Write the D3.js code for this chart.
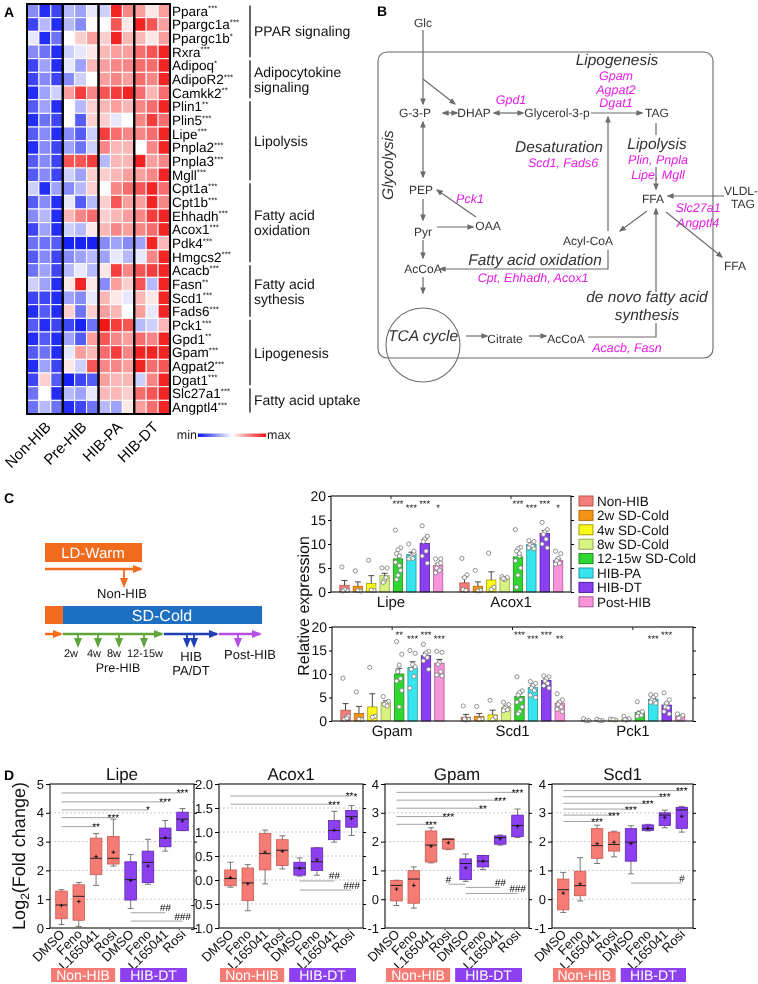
<!DOCTYPE html>
<html><head><meta charset="utf-8">
<script src="https://cdn.jsdelivr.net/npm/d3@7"></script>
<style>body{margin:0;background:#fff}svg{display:block;font-family:"Liberation Sans",Arial,Helvetica,sans-serif;will-change:transform;-webkit-font-smoothing:antialiased;text-rendering:geometricPrecision}</style>
</head><body><script>
// ================= DATA =================
// Panel A heatmap
const heatGenes = ["Ppara","Ppargc1a","Ppargc1b","Rxra","Adipoq","AdipoR2","Camkk2","Plin1","Plin5","Lipe","Pnpla2","Pnpla3","Mgll","Cpt1a","Cpt1b","Ehhadh","Acox1","Pdk4","Hmgcs2","Acacb","Fasn","Scd1","Fads6","Pck1","Gpd1","Gpam","Agpat2","Dgat1","Slc27a1","Angptl4"];
const heatStars = ["***","***","*","***","*","***","**","**","***","***","***","***","***","***","***","***","***","***","***","***","**","***","***","***","**","***","***","***","***","***"];
const heatGroups = ["Non-HIB","Pre-HIB","HIB-PA","HIB-DT"];
const heatValues = [
 [-0.5,-0.9,-0.8,-0.3,-0.4,-0.1,-0.2,0.9,0.5,0.4,0.1,0.4],
 [-0.8,-0.3,-0.9,-0.3,-0.5,0,0,0.7,0.1,0.9,0.7,0.4],
 [-0.1,-0.9,-0.6,0,0.2,0.4,0.2,0.9,0.3,0.3,0.1,0.4],
 [-0.5,-0.6,-0.9,-0.2,-0.1,0.1,0.3,0.4,0.4,0.6,0.7,0.9],
 [-0.8,-0.4,-0.9,-0.1,-0.4,0.3,0.4,0.5,0.5,0.6,0.6,0.9],
 [-0.8,-0.5,-0.8,-0.5,-0.2,0,0.4,0.5,0.4,0.6,0.5,0.9],
 [-0.9,-0.4,-0.2,0.4,0.8,0.5,0.7,0.8,0.9,0.6,0.3,0.6],
 [-0.7,-0.4,-0.9,0,-0.3,0.2,0.3,0.4,0.3,0.5,0.6,0.9],
 [-0.9,-0.6,-0.8,0,-0.7,0.2,0.2,-0.1,0,0.5,0.8,0.6],
 [-0.7,-0.5,-0.9,-0.5,-0.7,-0.2,0.8,0.6,0.5,0.5,0.6,0.9],
 [-0.9,-0.5,-0.8,-0.4,-0.6,-0.2,0.5,0.3,0.3,0,0.5,0.9],
 [-0.7,-0.5,-0.8,0.7,0.7,0.8,-0.3,0.3,0.3,0.9,0.4,0.5],
 [-0.7,-0.5,-0.8,-0.2,-0.4,0.2,0.2,0.3,0.4,0.4,0.5,0.9],
 [-0.2,-0.9,-0.4,-0.5,-0.3,0.2,0,0.5,0.6,0.7,0.9,0.6],
 [-0.7,-0.5,-0.9,-0.1,-0.7,-0.3,0.2,0.7,0.4,0.4,0.9,0.5],
 [-0.5,-0.3,-0.9,0.3,0.5,0.6,0.2,0.3,0.4,0.5,0.8,0.9],
 [-0.8,-0.4,-0.9,-0.2,-0.3,0.1,0.3,0.5,0.4,0.5,0.6,0.9],
 [-0.6,-0.6,-0.7,-0.95,-0.95,-0.95,-0.5,-0.4,-0.5,-0.4,0.9,0.3],
 [-0.7,-0.5,-0.8,-0.5,-0.4,-0.3,-0.4,-0.1,-0.3,-0.1,0.5,0.9],
 [-0.6,-0.4,-0.8,-0.3,-0.1,-0.3,0.1,0.8,0.5,0.7,0.8,0.9],
 [-0.2,-0.4,-0.9,0.1,0.9,0.1,-0.5,0.4,0.2,0.7,-0.3,0.9],
 [-0.8,-0.8,-0.9,-0.4,-0.5,-0.1,0.3,0.1,-0.1,0.3,0.1,0.9],
 [-0.9,-0.7,-0.9,0.2,-0.6,0.2,0.4,0.3,0,0.4,-0.1,0.9],
 [-0.7,-0.9,-0.8,-0.8,-0.95,-0.6,0.95,0.8,0.7,-0.3,-0.2,0.3],
 [-0.9,-0.7,-0.9,-0.4,-0.7,0.4,0.7,0.5,0.4,0.6,0.5,0.9],
 [-0.7,-0.6,-0.9,-0.1,0.4,0.3,0.6,0.8,0.5,0.9,0.9,0.9],
 [-0.9,-0.4,-0.8,0.1,-0.2,0.7,0.5,0.5,0.4,0.9,0.6,0.7],
 [-0.8,0.2,-0.7,-0.95,-0.8,-0.7,0.4,0.3,0.3,-0.2,0.5,0.9],
 [-0.6,0,-0.9,-0.3,-0.4,-0.1,0.3,0.3,0.2,0.6,0.7,0.9],
 [-0.6,-0.3,-0.6,-0.9,-0.8,-0.6,-0.3,-0.4,0.1,0.4,0.6,0.9]
];
const pathwayNames = [["PPAR signaling"],["Adipocytokine","signaling"],["Lipolysis"],["Fatty acid","oxidation"],["Fatty acid","sythesis"],["Lipogenesis"],["Fatty acid uptake"]];
const pathwayRows = [[0,3],[4,6],[7,12],[13,18],[19,22],[23,27],[28,29]];

// Panel C bar charts
const barSeries = ["Non-HIB","2w SD-Cold","4w SD-Cold","8w SD-Cold","12-15w SD-Cold","HIB-PA","HIB-DT","Post-HIB"];
const barColors = ["#f27f77","#f39417","#fbf81c","#d8f380","#2fd82f","#37e5ef","#8a3ff0","#f794da"];
const barStrokes = ["#b8564f","#b56a0a","#a8a000","#8fa850","#1e8a1e","#1d9aa3","#4e1ea8","#b05a98"];
const barGenesTop = ["Lipe","Acox1"];
const barGenesBottom = ["Gpam","Scd1","Pck1"];
const barTicks = [0,5,10,15,20];
const meanLipe = [1.4,1.2,1.8,3.4,6.9,7.8,10.1,5.5];
const semLipe = [1.0,0.9,1.6,0.5,0.9,0.5,0.9,0.4];
const ptsLipe = [[5.2,0.3,0.5,0.2],[4.4,0.2,0.3],[6.6,0.3,0.4],[5.0,5.0,2.5,2.0,3.0],[12.9,9.2,8.8,8.0,7.5,6.2,4.5,3.5,2.6,5.5],[10.0,8.0,7.5,7.2,7.0,6.9,8.5],[13.8,11.6,11.0,10.5,8.5,7.5,6.0],[6.9,6.9,5.8,5.0,4.5,4.0,6.0]];
const sigLipe = ["","","","","***","***","***","*"];
const meanAcox1 = [1.9,1.2,2.5,2.9,7.3,9.9,12.2,6.6];
const semAcox1 = [1.2,0.9,1.7,0.2,0.9,0.4,0.6,0.3];
const ptsAcox1 = [[7.0,3.6,3.0,0.5,0.3],[4.5,0.3,0.2],[8.1,1.0,0.5],[3.2,3.0,2.6,2.8],[13.0,9.3,9.0,8.5,7.5,6.5,5.0,3.5,1.0,8.0],[10.7,10.5,10.0,9.8,9.5,9.2,9.0],[14.5,13.0,12.5,12.0,11.0,10.0,9.2],[8.5,8.0,7.0,6.5,6.0,5.8]];
const sigAcox1 = ["","","","","***","***","***","*"];
const meanGpam = [2.3,1.6,3.0,4.0,10.0,11.4,13.9,12.3];
const semGpam = [1.4,1.5,2.8,0.3,1.2,1.2,0.7,0.8];
const ptsGpam = [[9.1,1.0,0.5,0.3,0.6],[6.2,0.3,0.4],[11.4,1.0,0.8],[5.2,4.2,3.8,3.5,3.2],[16.9,14.2,11.9,10.8,9.0,8.5,6.5,3.0,10.5],[15.0,14.4,12.0,11.0,9.5,7.0,11.5],[16.3,14.8,14.5,14.0,13.5,12.8,11.0],[14.8,14.6,12.5,12.0,10.5,9.8,9.6]];
const sigGpam = ["","","","","**","***","***","***"];
const meanScd1 = [0.8,1.0,1.3,2.9,5.2,7.1,8.6,3.8];
const semScd1 = [0.6,0.6,1.0,0.3,0.7,0.5,0.4,0.4];
const ptsScd1 = [[3.2,0.3,0.2,0.4],[3.1,0.4,0.3],[4.4,0.8,0.3],[4.0,3.5,3.0,2.7,2.4,2.2],[9.4,6.4,6.0,5.5,4.5,4.0,3.0,2.0,1.5],[8.4,8.0,7.5,7.0,6.5,5.5,5.0],[9.6,9.4,9.0,8.5,8.0,7.5,7.0],[5.8,4.5,4.0,3.5,3.0,2.5,2.0]];
const sigScd1 = ["","","","","***","***","***","**"];
const meanPck1 = [0.1,0.15,0.3,0.4,1.8,4.6,3.4,1.0];
const semPck1 = [0.1,0.1,0.1,0.2,0.3,0.2,0.4,0.2];
const ptsPck1 = [[0.5,0.1,0.05],[0.4,0.1,0.1],[0.4,0.2,0.3],[1.0,0.5,0.2,0.3],[4.1,1.8,1.5,1.6,1.2,1.0,2.0],[5.6,5.5,5.0,4.5,4.2,4.0,3.8],[6.0,4.5,3.8,3.0,2.8,2.0,1.5],[1.5,1.2,0.8,0.6]];
const sigPck1 = ["","","","","","***","***",""];

// Panel D box plots: [whiskerLow, q1, median, q3, whiskerHigh, mean]
const boxTreatments = ["DMSO","Feno","L165041","Rosi","DMSO","Feno","L165041","Rosi"];
const boxConditions = ["Non-HIB","HIB-DT"];
const boxLipe = [[0.12,0.32,0.80,1.28,1.33,0.78],[0.05,0.27,1.10,1.50,1.58,0.92],[1.48,1.85,2.42,3.12,3.28,2.48],[2.15,2.22,2.42,3.18,3.78,2.63],[0.68,0.97,1.68,2.30,2.55,1.65],[1.52,1.58,2.28,2.67,3.08,2.15],[2.67,2.82,3.12,3.47,3.73,3.14],[3.38,3.38,3.78,4.02,4.15,3.72]];
const boxAcox1 = [[-0.15,-0.12,0.03,0.21,0.37,0.05],[-0.64,-0.43,-0.06,0.25,0.32,-0.08],[-0.08,0.21,0.55,0.97,1.04,0.58],[0.23,0.30,0.62,0.84,0.92,0.60],[0.08,0.10,0.25,0.37,0.46,0.24],[0.10,0.20,0.38,0.67,0.67,0.42],[0.79,0.84,1.03,1.24,1.43,1.04],[0.93,1.10,1.32,1.45,1.55,1.28]];
const boxGpam = [[-0.22,-0.06,0.48,0.65,0.66,0.35],[-0.31,-0.14,0.70,0.99,1.12,0.48],[1.26,1.29,1.88,2.37,2.48,1.84],[1.72,1.74,2.08,2.10,2.10,1.96],[0.62,0.68,1.24,1.40,1.57,1.09],[1.03,1.12,1.32,1.52,1.52,1.32],[1.88,1.91,2.14,2.20,2.23,2.10],[2.14,2.17,2.56,2.92,3.13,2.53]];
const boxScd1 = [[-0.46,-0.37,0.33,0.70,0.93,0.21],[-0.06,0.12,0.47,0.97,1.44,0.53],[1.24,1.42,1.86,2.45,2.57,1.93],[1.47,1.67,1.90,2.33,2.36,1.98],[0.88,1.32,1.98,2.45,2.55,1.93],[2.37,2.39,2.45,2.58,2.60,2.46],[2.48,2.56,2.92,3.00,3.09,2.84],[2.33,2.46,3.10,3.19,3.22,2.88]];
// significance: [fromIndex, toIndex, yValue, label]
const sigBoxLipe = [[0,2,3.52,"**"],[0,3,3.83,"***"],[0,5,4.10,"*"],[0,6,4.38,"***"],[0,7,4.69,"***"],[4,6,0.53,"##"],[4,7,0.24,"###"]];
const sigBoxAcox1 = [[0,6,1.58,"***"],[0,7,1.75,"***"],[4,6,-0.02,"##"],[4,7,-0.21,"###"]];
const sigBoxGpam = [[0,2,2.6,"***"],[0,3,2.87,"***"],[0,5,3.16,"**"],[0,6,3.44,"***"],[0,7,3.71,"***"],[4,3,0.52,"#"],[4,6,0.41,"##"],[4,7,0.2,"###"]];
const sigBoxScd1 = [[0,2,2.7,"***"],[0,3,2.92,"***"],[0,4,3.13,"***"],[0,5,3.33,"***"],[0,6,3.56,"***"],[0,7,3.77,"***"],[4,7,0.56,"#"]];

// ================= DRAW =================
const svg = d3.select("body").append("svg").attr("width",758).attr("height",984);
const defs = svg.append("defs");
function mk(id,color,size){
  defs.append("marker").attr("id",id).attr("viewBox","0 0 10 10").attr("refX",8).attr("refY",5)
   .attr("markerWidth",size).attr("markerHeight",size).attr("markerUnits","userSpaceOnUse")
   .attr("orient","auto-start-reverse").append("path").attr("d","M0,1 L10,5 L0,9 z").attr("fill",color);
}
mk("ag","#6b6b6b",7); mk("ao","#f26a1c",10); mk("agr","#5fa53b",10); mk("ab","#1e40b4",10); mk("ap","#b450e6",10);

function txt(g,x,y,t,o={}){
  const e=g.append("text").attr("x",x).attr("y",y).text(t)
   .attr("font-size",o.size||12).attr("fill",o.fill||"#222").attr("text-anchor",o.anchor||"middle");
  if(o.italic) e.attr("font-style","italic");
  if(o.bold) e.attr("font-weight","bold");
  if(o.dy) e.attr("dy",o.dy);
  if(o.rot!==undefined) e.attr("transform",`rotate(${o.rot},${x},${y})`);
  return e;
}
// panel letters
[["A",4,17],["B",377,16],["C",4,503],["D",4,780]].forEach(d=>txt(svg,d[1],d[2],d[0],{size:14,bold:true,anchor:"start",fill:"#000"}));

// ---------- Panel A ----------
const A = svg.append("g");
const hx = d3.scaleBand().domain(d3.range(12)).range([27,170]);
const hy = d3.scaleBand().domain(heatGenes).range([4,414]);
const hcol = d3.scaleLinear().domain([-1,0,1]).range(["#0c16f2","#ffffff","#f20c0c"]);
heatValues.forEach((row,i)=>{
  A.selectAll(null).data(row).enter().append("rect")
   .attr("x",(d,j)=>hx(j)).attr("y",hy(heatGenes[i])).attr("width",hx.bandwidth()).attr("height",hy.bandwidth())
   .attr("fill",d=>hcol(d)).attr("stroke","#fff").attr("stroke-width",1);
});
heatGroups.forEach((g,k)=>{
  A.append("rect").attr("x",hx(k*3)).attr("y",hy.range()[0]).attr("width",hx.bandwidth()*3)
   .attr("height",hy.range()[1]-hy.range()[0]).attr("fill","none").attr("stroke","#000").attr("stroke-width",2);
  const cx=hx(k*3)+hx.bandwidth()*1.5+7, cy=428;
  txt(A,cx,cy,g,{size:15,anchor:"end",rot:-45,fill:"#000"});
});
heatGenes.forEach((g,i)=>{
  const t=A.append("text").attr("x",172).attr("y",hy(g)+hy.bandwidth()/2).attr("dy","0.36em")
   .attr("font-size",13.5).attr("fill","#000").text(g);
  t.append("tspan").attr("font-size",8).attr("dy","-0.55em").text(heatStars[i]);
});
pathwayRows.forEach((r,k)=>{
  const y0=hy(heatGenes[r[0]])+1.5, y1=hy(heatGenes[r[1]])+hy.bandwidth()-1.5;
  A.append("line").attr("x1",250).attr("x2",250).attr("y1",y0).attr("y2",y1).attr("stroke","#000").attr("stroke-width",1.2);
  const names=pathwayNames[k], cy=(y0+y1)/2;
  names.forEach((n,j)=>txt(A,254,cy+(j-(names.length-1)/2)*15,n,{size:14,anchor:"start",dy:"0.36em",fill:"#111"}));
});
const grad=defs.append("linearGradient").attr("id","hg");
[[0,-1],[0.5,0],[1,1]].forEach(s=>grad.append("stop").attr("offset",s[0]).attr("stop-color",hcol(s[1])));
A.append("rect").attr("x",198).attr("y",433.5).attr("width",68).attr("height",3.5).attr("fill","url(#hg)");
txt(A,197,439,"min",{size:12.5,anchor:"end"});
txt(A,267,439,"max",{size:12.5,anchor:"start"});

// ---------- Panel B ----------
const B = svg.append("g");
B.append("rect").attr("x",378).attr("y",52).attr("width",335).attr("height",306).attr("rx",9)
 .attr("fill","none").attr("stroke","#666").attr("stroke-width",1.1);
const bNodes = [["Glc",423,23],["G-3-P",415,113],["DHAP",474,113],["Glycerol-3-p",557,113],["TAG",657,113],
 ["PEP",421,190],["Pyr",423,232],["OAA",488,226],["AcCoA",423,269],["Acyl-CoA",588,241],["FFA",653,199],
 ["VLDL-",741,191],["TAG",743,204],["FFA",735,266],["Citrate",505,339],["AcCoA",566,339]];
bNodes.forEach(n=>txt(B,n[1],n[2],n[0],{size:12,dy:"0.35em",fill:"#333"}));
const bHeads = [["Lipogenesis",617,60],["Desaturation",559,147],["Lipolysis",657,144],["Fatty acid oxidation",535,260],
 ["de novo fatty acid",647,297],["synthesis",647,315],["TCA cycle",423,336]];
bHeads.forEach(n=>txt(B,n[1],n[2],n[0],{size:15.5,italic:true,dy:"0.35em",fill:"#333"}));
txt(B,388,165,"Glycolysis",{size:15.5,italic:true,dy:"0.35em",fill:"#333",rot:-90});
const bGenes = [["Gpam",616,76],["Agpat2",616,89.5],["Dgat1",616,103],["Gpd1",511,100],["Scd1, Fads6",563,163],
 ["Plin, Pnpla",658,160],["Lipe, Mgll",658,175],["Pck1",470,199],["Slc27a1",698,208],["Angptl4",698,223],
 ["Cpt, Ehhadh, Acox1",533,278],["Acacb, Fasn",627,348]];
bGenes.forEach(n=>txt(B,n[1],n[2],n[0],{size:12.5,italic:true,dy:"0.35em",fill:"#e41ee4"}));
// arrows: [path, markerStart, markerEnd]
const bArrows = [["M423,30 L423,104",0,1],["M423,79 L455,104",0,1],["M443,113 L457,113",1,1],["M494,113 L523,113",1,1],
 ["M591,113 L642,113",0,1],["M608,231 L608,117",0,1],["M656,123 L656,135",0,0],["M656,167 L656,189",0,1],
 ["M724,196 L668,196",0,1],["M666,212 L722,257",0,1],["M647,211 L620,231",0,1],["M608,250 L608,269 L440,269",0,1],
 ["M423,122 L423,177",1,1],["M423,199 L423,220",0,1],["M437,227 L473,227",0,1],["M476,217 L437,190",0,1],
 ["M423,240 L423,258",0,1],["M423,277 L423,293",0,1],["M466,336 L487,336",0,1],["M529,336 L546,336",0,1],
 ["M588,337 L656,337 L656,323",0,0],["M656,292 L656,209",0,1]];
bArrows.forEach(a=>{
  const p=B.append("path").attr("d",a[0]).attr("fill","none").attr("stroke","#6b6b6b").attr("stroke-width",1.2);
  if(a[1]) p.attr("marker-start","url(#ag)");
  if(a[2]) p.attr("marker-end","url(#ag)");
});
B.append("circle").attr("cx",423).attr("cy",345).attr("r",37).attr("fill","none").attr("stroke","#6b6b6b").attr("stroke-width",1.1);

// ---------- Panel C timeline ----------
const T = svg.append("g");
const cOr="#f26a1c", cBl="#1c6fc2", cGr="#5fa53b", cDb="#1e40b4", cPu="#b450e6";
T.append("rect").attr("x",45).attr("y",543).attr("width",97).attr("height",19).attr("fill",cOr);
txt(T,93,553,"LD-Warm",{size:15,fill:"#fff",dy:"0.36em"});
function arr(d,c,m,w){T.append("path").attr("d",d).attr("fill","none").attr("stroke",c).attr("stroke-width",w||2.5).attr("marker-end",`url(#${m})`);}
arr("M45,569 L141,569",cOr,"ao");
arr("M124,569 L124,586",cOr,"ao",1.8);
txt(T,122,593,"Non-HIB",{size:13,dy:"0.36em",fill:"#111"});
T.append("rect").attr("x",45).attr("y",606).attr("width",18).attr("height",18).attr("fill",cOr);
T.append("rect").attr("x",63).attr("y",606).attr("width",199).attr("height",18).attr("fill",cBl);
txt(T,162,615,"SD-Cold",{size:16,fill:"#fff",dy:"0.36em"});
arr("M45,634 L61,634",cOr,"ao");
arr("M63,634 L162,634",cGr,"agr");
arr("M164,634 L217,634",cDb,"ab");
arr("M219,634 L260,634",cPu,"ap");
[78,98,119,144].forEach(x=>arr(`M${x},635 L${x},646`,cGr,"agr",1.8));
[187,194].forEach(x=>arr(`M${x},635 L${x},646`,cDb,"ab",1.8));
arr("M238,635 L238,646",cPu,"ap",1.8);
[["2w",71],["4w",94],["8w",114],["12-15w",145]].forEach(d=>txt(T,d[1],653,d[0],{size:11,dy:"0.36em",fill:"#111"}));
txt(T,118,667.5,"Pre-HIB",{size:12.5,dy:"0.36em",fill:"#111"});
txt(T,191,656,"HIB",{size:13,dy:"0.36em",fill:"#111"});
txt(T,191,670,"PA/DT",{size:13,dy:"0.36em",fill:"#111"});
txt(T,250,654,"Post-HIB",{size:13,dy:"0.36em",fill:"#111"});

// ---------- Panel C bars ----------
const jit=[-2.6,2.6,0,-1.4,1.4,-2.6,2.6,0,-1.4,1.4];
function barChart(genes,means,sems,pts,sigs,x0,x1,yTop,yBot){
  const g=svg.append("g");
  const xg=d3.scaleBand().domain(genes).range([x0,x1]);
  const y=d3.scaleLinear().domain([0,20]).range([yBot,yTop]);
  genes.forEach((gene,gi)=>{
    const gx=xg(gene), bw=xg.bandwidth();
    const xs=d3.scaleBand().domain(barSeries).range([gx+bw*0.04,gx+bw*0.965]).padding(0.3);
    barSeries.forEach((s,si)=>{
      const m=means[gi][si], e=sems[gi][si], cx=xs(s)+xs.bandwidth()/2;
      g.append("rect").attr("x",xs(s)).attr("y",y(m)).attr("width",xs.bandwidth()).attr("height",y(0)-y(m))
       .attr("fill",barColors[si]).attr("stroke",barStrokes[si]).attr("stroke-width",0.8);
      g.append("line").attr("x1",cx).attr("x2",cx).attr("y1",y(m)).attr("y2",y(m+e)).attr("stroke","#333").attr("stroke-width",0.9);
      g.append("line").attr("x1",cx-3).attr("x2",cx+3).attr("y1",y(m+e)).attr("y2",y(m+e)).attr("stroke","#333").attr("stroke-width",0.9);
      g.selectAll(null).data(pts[gi][si]).enter().append("circle")
       .attr("cx",(d,i)=>cx+jit[i%10]).attr("cy",d=>y(d)).attr("r",2.1)
       .attr("fill","#fff").attr("stroke","#777").attr("stroke-width",0.8);
      if(sigs[gi][si]) txt(g,cx,yTop+11+(si%2?4:0),sigs[gi][si],{size:9.5,fill:"#111"});
    });
    txt(g,gx+bw/2,yBot+15,gene,{size:15,fill:"#111"});
    g.append("line").attr("x1",gx+bw/2).attr("x2",gx+bw/2).attr("y1",yTop).attr("y2",yTop+3).attr("stroke","#222");
  });
  g.append("rect").attr("x",x0).attr("y",yTop).attr("width",x1-x0).attr("height",yBot-yTop)
   .attr("fill","none").attr("stroke","#222").attr("stroke-width",1.2);
  const ax=g.append("g").attr("transform",`translate(${x0},0)`).call(d3.axisLeft(y).tickValues(barTicks).tickSize(3).tickPadding(2));
  ax.select(".domain").remove(); ax.selectAll("text").attr("font-size",14).attr("fill","#111").attr("font-family",null);
  const ar=g.append("g").attr("transform",`translate(${x1},0)`).call(d3.axisRight(y).tickValues(barTicks).tickSize(3).tickFormat(""));
  ar.select(".domain").remove();
}
barChart(barGenesTop,[meanLipe,meanAcox1],[semLipe,semAcox1],[ptsLipe,ptsAcox1],[sigLipe,sigAcox1],331,571,496,592);
barChart(barGenesBottom,[meanGpam,meanScd1,meanPck1],[semGpam,semScd1,semPck1],[ptsGpam,ptsScd1,ptsPck1],[sigGpam,sigScd1,sigPck1],332,693,627,721);
txt(svg,303,606,"Relative expression",{size:16,rot:-90,dy:"0.36em",fill:"#111"});
// legend
const L=svg.append("g");
barSeries.forEach((s,i)=>{
  const yy=501+i*14.4;
  L.append("rect").attr("x",579).attr("y",yy-5).attr("width",14).attr("height",10).attr("fill",barColors[i]).attr("stroke",barStrokes[i]).attr("stroke-width",1);
  txt(L,597,yy,s,{size:13.5,anchor:"start",dy:"0.36em",fill:"#111"});
});

// ---------- Panel D ----------
const minusFix=f=>d=>f(d).replace("\u2212","-");
function boxPlot(title,stats,sigs,left,right,domain,ticks,fmt){
  const top=784,bottom=928;
  const g=svg.append("g");
  const x=d3.scaleBand().domain(d3.range(8)).range([left,right]).padding(0.33);
  const y=d3.scaleLinear().domain(domain).range([bottom,top]);
  const cxf=i=>x(i)+x.bandwidth()/2;
  ticks.slice(1,-1).forEach(t=>g.append("line").attr("x1",left).attr("x2",right).attr("y1",y(t)).attr("y2",y(t))
    .attr("stroke","#bbb").attr("stroke-width",0.8).attr("stroke-dasharray","2,2"));
  stats.forEach((s,i)=>{
    const cx=cxf(i), bw=x.bandwidth(), col=i<4?"#f47c74":"#8d40f0", sc=i<4?"#c95a52":"#5f26b0";
    g.append("line").attr("x1",cx).attr("x2",cx).attr("y1",y(s[0])).attr("y2",y(s[4])).attr("stroke","#777").attr("stroke-width",1);
    [s[0],s[4]].forEach(v=>g.append("line").attr("x1",cx-3).attr("x2",cx+3).attr("y1",y(v)).attr("y2",y(v)).attr("stroke","#777").attr("stroke-width",1));
    g.append("rect").attr("x",x(i)).attr("y",y(s[3])).attr("width",bw).attr("height",Math.max(1,y(s[1])-y(s[3])))
     .attr("fill",col).attr("stroke",sc).attr("stroke-width",0.8);
    g.append("line").attr("x1",x(i)).attr("x2",x(i)+bw).attr("y1",y(s[2])).attr("y2",y(s[2])).attr("stroke","#222").attr("stroke-width",1);
    g.append("path").attr("d",`M${cx-1.8},${y(s[5])} h3.6 M${cx},${y(s[5])-1.8} v3.6`).attr("stroke","#111").attr("stroke-width",0.9);
    txt(g,cx+4,935,boxTreatments[i],{size:13,anchor:"end",rot:-45,fill:"#111"});
  });
  sigs.forEach(s=>{
    const xa=cxf(s[0]), xb=cxf(s[1]), yy=y(s[2]);
    g.append("line").attr("x1",xa).attr("x2",xb).attr("y1",yy).attr("y2",yy).attr("stroke","#999").attr("stroke-width",0.9);
    const isHash=s[3][0]==="#";
    txt(g,xb,isHash?yy-1.5:yy+3.5,s[3],{size:10,fill:"#000",italic:isHash,rot:0.01});
  });
  g.append("rect").attr("x",left).attr("y",top).attr("width",right-left).attr("height",bottom-top)
   .attr("fill","none").attr("stroke","#222").attr("stroke-width",1.2);
  const ax=g.append("g").attr("transform",`translate(${left},0)`).call(d3.axisLeft(y).tickValues(ticks).tickSize(4).tickPadding(2).tickFormat(minusFix(fmt)));
  ax.select(".domain").remove(); ax.selectAll("text").attr("font-size",13).attr("fill","#111").attr("font-family",null);
  const ar=g.append("g").attr("transform",`translate(${right},0)`).call(d3.axisRight(y).tickValues(ticks).tickSize(3).tickFormat(""));
  ar.select(".domain").remove();
  txt(g,(left+right)/2,780,title,{size:17,fill:"#111"});
  const step=x.step();
  [[left+1,left+4*step-4,"#f47c74",boxConditions[0]],[left+4*step+1,right-7,"#8d40f0",boxConditions[1]]].forEach(r=>{
    g.append("rect").attr("x",r[0]).attr("y",968).attr("width",r[1]-r[0]).attr("height",14).attr("fill",r[2]);
    txt(g,(r[0]+r[1])/2,980,r[3],{size:14,fill:"#fff"});
  });
}
boxPlot("Lipe",boxLipe,sigBoxLipe,50,194,[0,5],[0,1,2,3,4,5],d3.format("d"));
boxPlot("Acox1",boxAcox1,sigBoxAcox1,219,363,[-1,2],[-1,-0.5,0,0.5,1,1.5,2],d3.format(".1f"));
boxPlot("Gpam",boxGpam,sigBoxGpam,385,529,[-1,4],[-1,0,1,2,3,4],d3.format("d"));
boxPlot("Scd1",boxScd1,sigBoxScd1,552,693,[-1,4],[-1,0,1,2,3,4],d3.format("d"));
const yl=svg.append("text").attr("transform","translate(25,856) rotate(-90)").attr("text-anchor","middle").attr("font-size",18).attr("fill","#111");
yl.append("tspan").text("Log");
yl.append("tspan").attr("font-size",12).attr("dy",4).text("2");
yl.append("tspan").attr("dy",-4).text("(Fold change)");
</script></body></html>
